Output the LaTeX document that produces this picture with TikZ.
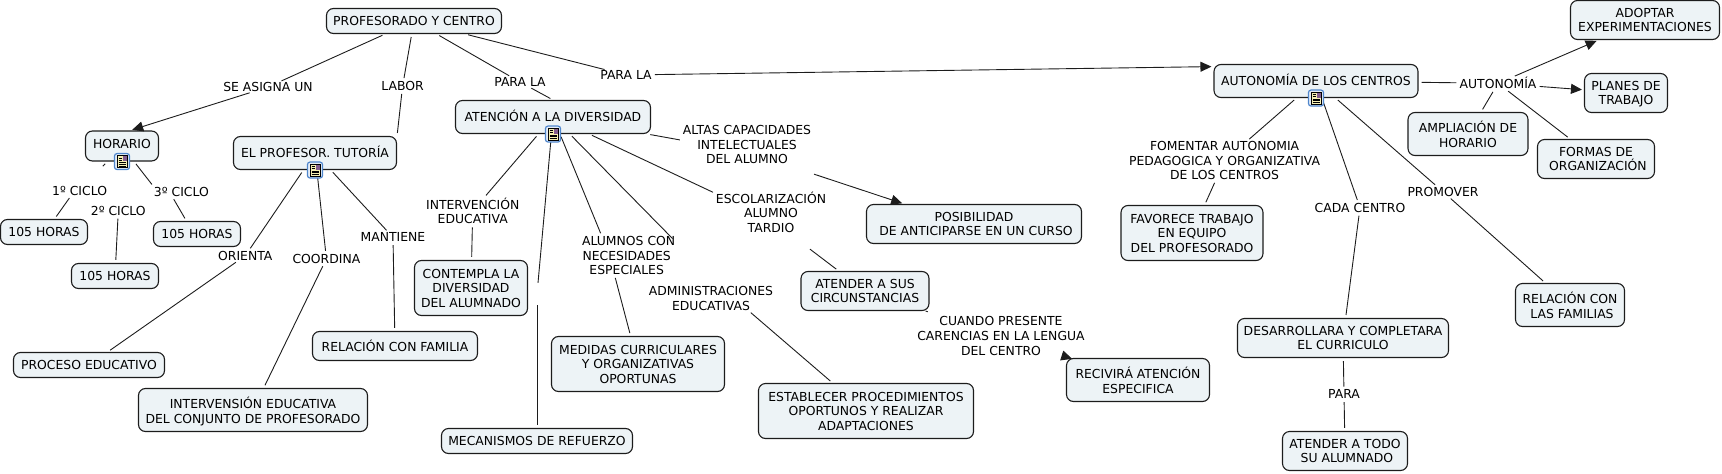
\documentclass[tikz,border=0pt]{standalone}
\usepackage{fontspec}
\setmainfont{DejaVu Sans}
\usepackage{xcolor}
\usetikzlibrary{arrows.meta,calc,backgrounds}
\definecolor{mapfill}{HTML}{EDF3F6}
\definecolor{mapline}{HTML}{1C1C1C}
\definecolor{iconblue}{HTML}{4F86CC}
\definecolor{iconpage}{HTML}{F6F0B4}
\tikzset{
  docicon/.pic={
    \draw[iconblue, fill=iconblue!15, line width=1.2pt, rounded corners=2.5pt] (-7.5,-8) rectangle (7.5,8);
    \draw[black, fill=iconpage, line width=.7pt] (-5,-6) rectangle (5,6);
    \fill[iconblue!70!red] (0.5,-5.5) rectangle (4.5,-0.5);
    \draw[black, line width=.7pt] (-3.5,-3.5) -- (-0.5,-3.5) (-3.5,-1.5) -- (-0.5,-1.5) (-3.5,0.8) -- (3.5,0.8) (-3.5,2.6) -- (3.5,2.6) (-3.5,4.4) -- (3.5,4.4);
  },
}
\begin{document}
\begin{tikzpicture}[
  x=1pt, y=-1pt,
  concept/.style 2 args={draw=mapline, fill=mapfill, line width=1.1pt, rounded corners=7pt, minimum width=#1pt, minimum height=#2pt, inner sep=0pt, align=center, text depth=0pt, font=\fontsize{12.4}{14.6}\selectfont},
  linklabel/.style={inner sep=0pt, align=center, font=\fontsize{12.4}{14.6}\selectfont},
  link/.style={draw=mapline, line width=.9pt, shorten <=3pt, shorten >=3pt},
  arrow/.style={link, -{Triangle[length=11pt, width=10pt]}, shorten >=2pt},
]
\useasboundingbox (0,0) rectangle (1722,474);

% Concepts (left to right)
\node[concept={175}{25}] (centro) at (414,21) {PROFESORADO Y CENTRO};
\node[concept={73}{30}, text depth=5pt] (horario) at (122,146) {HORARIO};
\node[concept={163}{33}, text depth=2pt] (tutoria) at (315,153) {EL PROFESOR. TUTORÍA};
\node[concept={195}{33}, text depth=2pt] (atencion) at (553,117) {ATENCIÓN A LA DIVERSIDAD};
\node[concept={87}{25}] (horasuno) at (44,232) {105 HORAS};
\node[concept={87}{25}] (horasdos) at (115,276) {105 HORAS};
\node[concept={87}{25}] (horastres) at (197,234) {105 HORAS};
\node[concept={151}{25}] (proceso) at (89,365) {PROCESO EDUCATIVO};
\node[concept={229}{43}] (intervencion) at (253,410) {INTERVENSIÓN EDUCATIVA\\DEL CONJUNTO DE PROFESORADO};
\node[concept={165}{29}] (familia) at (395,346) {RELACIÓN CON FAMILIA};
\node[concept={113}{55}] (contempla) at (471,288) {CONTEMPLA LA\\DIVERSIDAD\\DEL ALUMNADO};
\node[concept={191}{25}] (mecanismos) at (537,441) {MECANISMOS DE REFUERZO};
\node[concept={173}{55}] (medidas) at (638,364) {MEDIDAS CURRICULARES\\Y ORGANIZATIVAS\\OPORTUNAS};
\node[concept={215}{55}] (establecer) at (866,411) {ESTABLECER PROCEDIMIENTOS\\OPORTUNOS Y REALIZAR\\ADAPTACIONES};
\node[concept={215}{39}] (posibilidad) at (974,224) {POSIBILIDAD\\~DE ANTICIPARSE EN UN CURSO};
\node[concept={128}{39}] (circunstancias) at (865,291) {ATENDER A SUS\\CIRCUNSTANCIAS};
\node[concept={143}{43}] (recivira) at (1138,380) {RECIVIRÁ ATENCIÓN\\ESPECIFICA};
\node[concept={204}{33}, text depth=2pt] (autonomia) at (1316,81) {AUTONOMÍA DE LOS CENTROS};
\node[concept={149}{39}] (adoptar) at (1645,20) {ADOPTAR\\EXPERIMENTACIONES};
\node[concept={83}{39}] (planes) at (1626,93) {PLANES DE\\TRABAJO};
\node[concept={120}{43}] (ampliacion) at (1468,134) {AMPLIACIÓN DE\\HORARIO};
\node[concept={117}{39}] (formas) at (1596,159) {FORMAS DE\\~ORGANIZACIÓN};
\node[concept={142}{55}] (favorece) at (1192,233) {FAVORECE TRABAJO\\EN EQUIPO\\DEL PROFESORADO};
\node[concept={211}{39}] (desarrollara) at (1343,338) {DESARROLLARA Y COMPLETARA\\EL CURRICULO};
\node[concept={125}{39}] (alumnado) at (1345,451) {ATENDER A TODO\\~SU ALUMNADO};
\node[concept={109}{43}] (familias) at (1570,305) {RELACIÓN CON\\~LAS FAMILIAS};

% Link labels
\node[linklabel] (seasigna) at (268,87) {SE ASIGNA UN};
\node[linklabel] (labor) at (402.6,86) {LABOR};
\node[linklabel] (paraprimero) at (520,82) {PARA LA};
\node[linklabel] (parasegundo) at (626,75) {PARA LA};
\node[linklabel] (ciclouno) at (79.6,190.7) {1º CICLO};
\node[linklabel] (ciclodos) at (118.3,210.7) {2º CICLO};
\node[linklabel] (ciclotres) at (181.4,191.7) {3º CICLO};
\node[linklabel] (orienta) at (245.3,255.7) {ORIENTA};
\node[linklabel] (coordina) at (326.4,258.7) {COORDINA};
\node[linklabel] (mantiene) at (393,237.3) {MANTIENE};
\node[linklabel] (intervened) at (472.7,211) {INTERVENCIÓN\\EDUCATIVA};
\node[linklabel] (alumnos) at (626.7,255.5) {~ALUMNOS CON\\NECESIDADES\\ESPECIALES};
\node[linklabel] (administraciones) at (711,298.5) {ADMINISTRACIONES\\EDUCATIVAS};
\node[linklabel] (altas) at (747,152) {ALTAS CAPACIDADES\\INTELECTUALES\\DEL ALUMNO\\~};
\node[linklabel] (escolarizacion) at (771,219.5) {ESCOLARIZACIÓN\\ALUMNO\\TARDIO\\~};
\node[linklabel] (cuando) at (1001,336) {CUANDO PRESENTE\\CARENCIAS EN LA LENGUA\\DEL CENTRO};
\node[linklabel] (fomentar) at (1224.6,160.6) {FOMENTAR AUTONOMIA\\PEDAGOGICA Y ORGANIZATIVA\\DE LOS CENTROS};
\node[linklabel] (cadacentro) at (1360,207.7) {CADA CENTRO};
\node[linklabel] (promover) at (1443,191.7) {PROMOVER};
\node[linklabel] (autonomialink) at (1498,83.3) {AUTONOMÍA};
\node[linklabel] (para) at (1344,394.3) {PARA};
\node[linklabel, minimum width=4pt, minimum height=16pt] (sinnombre) at (537,294) {};

% Links from the top concept
\draw[link] (centro) -- (seasigna);
\draw[arrow] (seasigna) -- (horario.62);
\draw[link] (centro) -- (labor);
\draw[link] (labor) -- (tutoria.north east);
\draw[link] (centro) -- (paraprimero);
\draw[link] (paraprimero) -- (atencion.north);
\draw[link] (centro) -- (parasegundo);
\draw[arrow] (parasegundo) -- (autonomia.172);

% Horario
\draw[link, shorten >=27pt] (horario) -- (ciclouno);
\draw[link] (ciclouno.210) -- (horasuno.51);
\draw[link] (ciclodos) -- (horasdos);
\draw[link] (horario) -- (ciclotres.north west);
\draw[link] (ciclotres.208) -- (horastres.129);

% Tutoria
\draw[link] (tutoria) -- (orienta);
\draw[link] (orienta) -- (proceso);
\draw[link] (tutoria) -- (coordina);
\draw[link] (coordina) -- (intervencion);
\draw[link] (tutoria) -- (mantiene);
\draw[link] (mantiene) -- (familia);

% Atencion
\draw[link] (atencion) -- (intervened);
\draw[link] (intervened) -- (contempla);
\draw[link] (atencion) -- (sinnombre);
\draw[link] (sinnombre) -- (mecanismos);
\draw[link] (atencion) -- (alumnos.142);
\draw[link] (alumnos.238) -- (medidas);
\draw[link, shorten >=67pt] (atencion) -- (administraciones.55);
\draw[link] (administraciones.-18) -- (establecer.140);
\draw[link] (atencion) -- (altas);
\draw[arrow] (altas) -- (posibilidad.164);
\draw[link] (atencion) -- (escolarizacion);
\draw[link] (escolarizacion) -- (circunstancias);
\draw[draw=mapline, line width=.9pt, shorten >=15pt] (circunstancias) -- (cuando);
\begin{scope}[on background layer]
\draw[draw=mapline, line width=.9pt, shorten <=5pt, shorten >=-3pt, -{Triangle[length=11pt, width=10pt]}] (cuando) -- (recivira);
\end{scope}

% Autonomia
\draw[link] (autonomia) -- (fomentar);
\draw[link] (fomentar) -- (favorece);
\draw[link] (autonomia) -- (cadacentro);
\draw[link] (cadacentro) -- (desarrollara);
\draw[link] (desarrollara) -- (para);
\draw[link] (para) -- (alumnado);
\draw[link] (autonomia) -- (promover);
\draw[link] (promover) -- (familias);
\draw[link] (autonomia) -- (autonomialink);
\draw[arrow] (autonomialink) -- (adoptar);
\draw[arrow] (autonomialink) -- (planes);
\draw[link] (autonomialink) -- (ampliacion);
\draw[link] (autonomialink) -- (formas);

% Icons
\pic at (horario.south) {docicon};
\pic at (tutoria.south) {docicon};
\pic at (atencion.south) {docicon};
\pic at (autonomia.south) {docicon};
\end{tikzpicture}
\end{document}
